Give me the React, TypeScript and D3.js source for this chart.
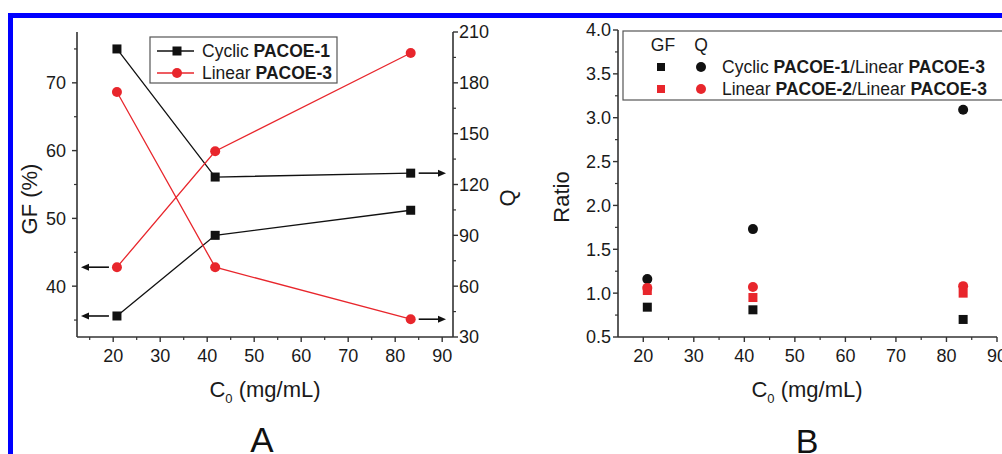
import React from "react";
import * as d3 from "d3";

// Panel A data
const concA = [20.8, 41.7, 83.3];
const gfCyclic1 = [35.6, 47.5, 51.2];
const qCyclic1 = [200, 124.4, 126.7];
const gfLinear3 = [42.8, 59.9, 74.4];
const qLinear3 = [174.6, 71.2, 40.5];
const gfTicksA = [40, 50, 60, 70];
const qTicksA = [30, 60, 90, 120, 150, 180, 210];
const xTicksA = [20, 30, 40, 50, 60, 70, 80, 90];
const legendA = ["Cyclic", "Linear"];
const legendABold = ["PACOE-1", "PACOE-3"];

// Panel B data
const concB = [20.8, 41.7, 83.3];
const gfRatioCyclic = [0.84, 0.81, 0.7];
const qRatioCyclic = [1.16, 1.73, 3.09];
const gfRatioLinear2 = [1.03, 0.95, 1.0];
const qRatioLinear2 = [1.06, 1.07, 1.08];
const ratioTicks = [0.5, 1.0, 1.5, 2.0, 2.5, 3.0, 3.5, 4.0];
const xTicksB = [20, 30, 40, 50, 60, 70, 80, 90];

const FONT = "'Liberation Sans', Arial, Helvetica, sans-serif";
const RED = "#e8262c";
const BLK = "#111";
const AX = "#333";
const TXT = "#1a1a1a";

function Square({ x, y, s, fill }: { x: number; y: number; s: number; fill: string }) {
  return <rect x={x - s / 2} y={y - s / 2} width={s} height={s} fill={fill} />;
}

function Arrow({ x1, x2, y }: { x1: number; x2: number; y: number }) {
  const dir = x2 > x1 ? 1 : -1;
  const hl = 8;
  return (
    <g>
      <line x1={x1} x2={x2 - dir * hl} y1={y} y2={y} stroke={BLK} strokeWidth={1.6} />
      <path d={`M${x2},${y} L${x2 - dir * hl},${y - 3.5} L${x2 - dir * hl},${y + 3.5} Z`} fill={BLK} />
    </g>
  );
}

function XLabel({ cx, y }: { cx: number; y: number }) {
  return (
    <text x={cx} y={y} textAnchor="middle" fontSize={22} fontFamily={FONT} fill={TXT}>
      C<tspan fontSize={13} dy={6}>0</tspan>
      <tspan dy={-6}> (mg/mL)</tspan>
    </text>
  );
}

export default function App() {
  // Panel A scales
  const xA = d3.scaleLinear().domain([12.3, 92.3]).range([77, 453]);
  const yGF = d3.scaleLinear().domain([32.5, 77.5]).range([337, 32]);
  const yQ = d3.scaleLinear().domain([30, 210]).range([337, 32]);
  // Panel B scales
  const xB = d3.scaleLinear().domain([15, 90]).range([618, 997]);
  const yR = d3.scaleLinear().domain([0.5, 4.0]).range([337, 30]);

  const lineGF = (vals: number[]) =>
    d3.line<number>().x((_, i) => xA(concA[i])).y((d) => yGF(d))(vals) || "";
  const lineQ = (vals: number[]) =>
    d3.line<number>().x((_, i) => xA(concA[i])).y((d) => yQ(d))(vals) || "";

  const gfMinor = d3.range(35, 77, 5).filter((v) => v % 10 !== 0);
  const qMinor = d3.range(45, 210, 30);
  const xMinorA = d3.range(15, 92, 10);
  const rMinor = d3.range(0.75, 4.0, 0.5);
  const xMinorB = d3.range(25, 90, 10);

  const bottom = 337;
  const tickFs = 18;

  return (
    <svg
      width={1002}
      height={454}
      style={{ position: "absolute", left: 0, top: 0, background: "#fff" }}
      fontFamily={FONT}
    >
      <rect x={0} y={0} width={1002} height={454} fill="#fff" />
      {/* blue frame */}
      <rect x={8} y={13} width={994} height={5} fill="#0000ff" />
      <rect x={8} y={13} width={5} height={441} fill="#0000ff" />

      {/* ===== Panel A ===== */}
      <g>
        <line x1={77} x2={77} y1={32} y2={bottom} stroke={AX} strokeWidth={1.6} />
        <line x1={453} x2={453} y1={32} y2={bottom} stroke={AX} strokeWidth={1.6} />
        <line x1={77} x2={453} y1={bottom} y2={bottom} stroke={AX} strokeWidth={1.6} />
        {gfTicksA.map((t) => (
          <g key={"gf" + t}>
            <line x1={72} x2={77} y1={yGF(t)} y2={yGF(t)} stroke={AX} strokeWidth={1.4} />
            <text x={66} y={yGF(t)} dy="0.36em" textAnchor="end" fontSize={tickFs} fill={TXT}>
              {t}
            </text>
          </g>
        ))}
        {gfMinor.map((t) => (
          <line key={"gfm" + t} x1={74} x2={77} y1={yGF(t)} y2={yGF(t)} stroke={AX} strokeWidth={1.2} />
        ))}
        {qTicksA.map((t) => (
          <g key={"q" + t}>
            <line x1={453} x2={458} y1={yQ(t)} y2={yQ(t)} stroke={AX} strokeWidth={1.4} />
            <text x={459} y={yQ(t)} dy="0.36em" textAnchor="start" fontSize={tickFs} fill={TXT}>
              {t}
            </text>
          </g>
        ))}
        {qMinor.map((t) => (
          <line key={"qm" + t} x1={453} x2={456} y1={yQ(t)} y2={yQ(t)} stroke={AX} strokeWidth={1.2} />
        ))}
        {xTicksA.map((t) => (
          <g key={"xa" + t}>
            <line x1={xA(t)} x2={xA(t)} y1={bottom} y2={bottom + 5} stroke={AX} strokeWidth={1.4} />
            <text x={xA(t)} y={362} textAnchor="middle" fontSize={tickFs} fill={TXT}>
              {t}
            </text>
          </g>
        ))}
        {xMinorA.map((t) => (
          <line key={"xam" + t} x1={xA(t)} x2={xA(t)} y1={bottom} y2={bottom + 3} stroke={AX} strokeWidth={1.2} />
        ))}

        <path d={lineQ(qCyclic1)} fill="none" stroke={BLK} strokeWidth={1.3} />
        <path d={lineGF(gfCyclic1)} fill="none" stroke={BLK} strokeWidth={1.3} />
        <path d={lineQ(qLinear3)} fill="none" stroke={RED} strokeWidth={1.3} />
        <path d={lineGF(gfLinear3)} fill="none" stroke={RED} strokeWidth={1.3} />
        {concA.map((c, i) => (
          <g key={"ma" + i}>
            <Square x={xA(c)} y={yGF(gfCyclic1[i])} s={9} fill={BLK} />
            <Square x={xA(c)} y={yQ(qCyclic1[i])} s={9} fill={BLK} />
            <circle cx={xA(c)} cy={yGF(gfLinear3[i])} r={5} fill={RED} />
            <circle cx={xA(c)} cy={yQ(qLinear3[i])} r={5} fill={RED} />
          </g>
        ))}
        <Arrow x1={xA(concA[0]) - 8} x2={81} y={yGF(gfCyclic1[0])} />
        <Arrow x1={xA(concA[0]) - 8} x2={81} y={yGF(gfLinear3[0])} />
        <Arrow x1={xA(concA[2]) + 8} x2={446} y={yQ(qCyclic1[2])} />
        <Arrow x1={xA(concA[2]) + 8} x2={446} y={yQ(qLinear3[2])} />

        <rect x={150} y={37} width={187} height={46} fill="#fff" stroke="#555" strokeWidth={1.2} />
        {legendA.map((l, i) => {
          const y = 51 + i * 22;
          const col = i === 0 ? BLK : RED;
          return (
            <g key={"la" + i}>
              <line x1={157} x2={194} y1={y} y2={y} stroke={col} strokeWidth={1.3} />
              {i === 0 ? <Square x={177} y={y} s={9} fill={col} /> : <circle cx={177} cy={y} r={5} fill={col} />}
              <text x={202} y={y} dy="0.36em" fontSize={17.5} fill={TXT}>
                {l} <tspan fontWeight="bold">{legendABold[i]}</tspan>
              </text>
            </g>
          );
        })}

        <text transform={`translate(37,199) rotate(-90)`} textAnchor="middle" fontSize={22} fill={TXT}>
          GF (%)
        </text>
        <text transform={`translate(515,198) rotate(-90)`} textAnchor="middle" fontSize={22} fill={TXT}>
          Q
        </text>
        <XLabel cx={265} y={397} />
        <text x={262} y={452} textAnchor="middle" fontSize={35} fill="#111">
          A
        </text>
      </g>

      {/* ===== Panel B ===== */}
      <g>
        <line x1={618} x2={618} y1={30} y2={bottom} stroke={AX} strokeWidth={1.6} />
        <line x1={618} x2={997} y1={bottom} y2={bottom} stroke={AX} strokeWidth={1.6} />
        {ratioTicks.map((t) => (
          <g key={"r" + t}>
            <line x1={613} x2={618} y1={yR(t)} y2={yR(t)} stroke={AX} strokeWidth={1.4} />
            <text x={611} y={yR(t)} dy="0.36em" textAnchor="end" fontSize={tickFs} fill={TXT}>
              {d3.format(".1f")(t)}
            </text>
          </g>
        ))}
        {rMinor.map((t) => (
          <line key={"rm" + t} x1={615} x2={618} y1={yR(t)} y2={yR(t)} stroke={AX} strokeWidth={1.2} />
        ))}
        {xTicksB.map((t) => (
          <g key={"xb" + t}>
            <line x1={xB(t)} x2={xB(t)} y1={bottom} y2={bottom + 5} stroke={AX} strokeWidth={1.4} />
            <text x={xB(t)} y={362} textAnchor="middle" fontSize={tickFs} fill={TXT}>
              {t}
            </text>
          </g>
        ))}
        {xMinorB.map((t) => (
          <line key={"xbm" + t} x1={xB(t)} x2={xB(t)} y1={bottom} y2={bottom + 3} stroke={AX} strokeWidth={1.2} />
        ))}

        {concB.map((c, i) => (
          <g key={"mb" + i}>
            <Square x={xB(c)} y={yR(gfRatioCyclic[i])} s={9} fill={BLK} />
            <circle cx={xB(c)} cy={yR(qRatioCyclic[i])} r={5} fill={BLK} />
            <circle cx={xB(c)} cy={yR(qRatioLinear2[i])} r={5} fill={RED} />
            <Square x={xB(c)} y={yR(gfRatioLinear2[i])} s={9} fill={RED} />
          </g>
        ))}

        <rect x={623} y={31} width={400} height={69} fill="#fff" stroke="#555" strokeWidth={1.2} />
        <text x={663} y={45} dy="0.36em" textAnchor="middle" fontSize={17.5} fill={TXT}>
          GF
        </text>
        <text x={701} y={45} dy="0.36em" textAnchor="middle" fontSize={17.5} fill={TXT}>
          Q
        </text>
        <Square x={661} y={67} s={8} fill={BLK} />
        <circle cx={701} cy={67} r={5} fill={BLK} />
        <text x={722} y={67} dy="0.36em" fontSize={17.5} fill={TXT}>
          Cyclic <tspan fontWeight="bold">PACOE-1</tspan>/Linear <tspan fontWeight="bold">PACOE-3</tspan>
        </text>
        <Square x={661} y={89} s={8} fill={RED} />
        <circle cx={701} cy={89} r={5} fill={RED} />
        <text x={722} y={89} dy="0.36em" fontSize={17.5} fill={TXT}>
          Linear <tspan fontWeight="bold">PACOE-2</tspan>/Linear <tspan fontWeight="bold">PACOE-3</tspan>
        </text>

        <text transform={`translate(569,197) rotate(-90)`} textAnchor="middle" fontSize={22} fill={TXT}>
          Ratio
        </text>
        <XLabel cx={807} y={397} />
        <text x={807} y={453} textAnchor="middle" fontSize={34} fill="#111">
          B
        </text>
      </g>
    </svg>
  );
}
